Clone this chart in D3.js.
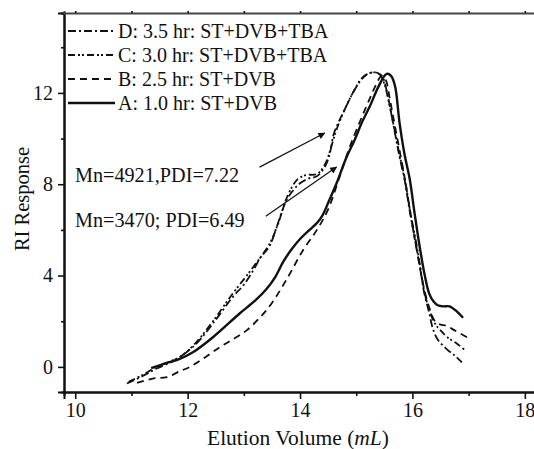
<!DOCTYPE html>
<html>
<head>
<meta charset="utf-8">
<script src="https://cdn.jsdelivr.net/npm/d3@7"></script>
<style>
  body { margin: 0; background: #fff; }
  svg text { font-family: "Liberation Serif", "Times New Roman", serif; fill: #111; }
</style>
</head>
<body>
<div id="chart"></div>
<script>
// 数据：洗脱体积 (mL) 与 RI 响应
const seriesNames = ['D: 3.5 hr: ST+DVB+TBA', 'C: 3.0 hr: ST+DVB+TBA', 'B: 2.5 hr: ST+DVB', 'A: 1.0 hr: ST+DVB'];

const curveA = [[11.35,-0.05],[11.6,0.15],[11.86,0.35],[12.1,0.65],[12.45,1.3],[12.93,2.35],[13.2,2.9],[13.4,3.4],
  [13.55,3.9],[13.7,4.6],[13.85,5.15],[14.0,5.6],[14.17,6.0],[14.3,6.3],[14.4,6.64],[14.52,7.3],[14.65,8.04],[14.83,9.2],
  [14.97,9.93],[15.1,10.7],[15.24,11.4],[15.4,12.3],[15.54,12.83],[15.62,12.75],[15.69,12.3],[15.77,10.7],
  [15.86,9.3],[15.95,8.25],[16.04,6.7],[16.13,5.25],[16.22,4.0],[16.3,3.2],[16.38,2.85],[16.45,2.7],[16.55,2.65],
  [16.66,2.65],[16.78,2.45],[16.9,2.15]];

const curveB = [[11.1,-0.7],[11.4,-0.5],[11.63,-0.45],[11.85,-0.2],[12.04,0.0],[12.3,0.4],[12.57,0.86],[12.8,1.2],
  [13.05,1.6],[13.3,2.2],[13.5,2.8],[13.8,4.0],[14.05,5.1],[14.3,6.0],[14.5,6.9],[14.7,8.3],[14.88,9.6],[15.1,10.95],
  [15.25,11.8],[15.36,12.4],[15.45,12.75],[15.52,12.6],[15.6,11.7],[15.7,10.4],[15.86,8.3],[16.0,6.2],[16.1,4.8],
  [16.2,3.5],[16.3,2.6],[16.4,2.0],[16.5,1.85],[16.6,1.8],[16.75,1.6],[16.97,1.3]];

const curveC = [[10.95,-0.65],[11.2,-0.35],[11.45,0.0],[11.7,0.25],[11.9,0.5],[12.16,1.1],[12.45,2.0],[12.8,3.2],
  [13.16,4.35],[13.46,5.4],[13.6,6.2],[13.78,7.5],[13.95,8.2],[14.1,8.4],[14.3,8.45],[14.45,8.9],[14.55,9.6],
  [14.65,10.4],[14.8,11.3],[14.96,12.1],[15.1,12.65],[15.22,12.85],[15.33,12.9],[15.42,12.8],[15.5,12.4],
  [15.58,11.6],[15.68,10.4],[15.77,9.3],[15.86,8.3],[15.96,6.8],[16.07,5.4],[16.15,4.2],[16.22,3.2],[16.3,2.5],
  [16.4,1.9],[16.5,1.6],[16.62,1.3],[16.8,1.0],[16.95,0.7]];

const curveD = [[10.92,-0.73],[11.2,-0.4],[11.45,-0.07],[11.7,0.2],[11.86,0.42],[12.16,1.03],[12.45,1.9],[12.8,3.05],
  [13.0,3.6],[13.16,4.2],[13.3,4.8],[13.46,5.3],[13.58,6.1],[13.76,7.3],[13.9,7.8],[14.0,8.04],[14.15,8.25],
  [14.3,8.35],[14.45,8.8],[14.53,9.35],[14.6,10.2],[14.7,10.8],[14.8,11.3],[14.94,12.0],[15.08,12.55],[15.18,12.8],
  [15.3,12.9],[15.4,12.85],[15.47,12.7],[15.55,12.0],[15.6,11.4],[15.7,10.1],[15.77,9.2],[15.86,8.2],[15.96,6.7],
  [16.07,5.25],[16.14,4.3],[16.2,3.35],[16.3,2.35],[16.36,1.7],[16.45,1.2],[16.6,0.8],[16.75,0.5],[16.88,0.2]];

const xMajorTicks = [10, 12, 14, 16, 18];
const xMinorTicks = [11, 13, 15, 17];
const yMajorTicks = [0, 4, 8, 12];
const yMinorTicks = [2, 6, 10, 14];

const annotations = ['Mn=4921,PDI=7.22', 'Mn=3470; PDI=6.49'];
// 箭头起止点 (数据坐标)
const arrowFrom = [[13.28, 8.75], [13.39, 6.6]];
const arrowTo = [[14.44, 10.24], [14.65, 8.75]];

const width = 534, height = 449;
const plotLeft = 64, plotBottom = 392, plotTop = 13;

const svg = d3.select('#chart').append('svg').attr('width', width).attr('height', height);

const x = d3.scaleLinear().domain([9.8, 18.3]).range([plotLeft, plotLeft + 8.5 * 56.2]);
const y = d3.scaleLinear().domain([-1.1, 15.5]).range([plotBottom, plotTop]);

const styles = [
  { data: curveD, dash: '8,3,2,3', w: 1.8 },
  { data: curveC, dash: '7,3,2,2,2,3', w: 1.8 },
  { data: curveB, dash: '7,5', w: 1.8 },
  { data: curveA, dash: null, w: 2.4 }
];

// 坐标轴
function drawAxis(axis, transform, showLabels, fs) {
  const g = svg.append('g').attr('transform', transform).call(axis);
  g.selectAll('line').attr('stroke', '#111').attr('stroke-width', 1.6);
  g.select('.domain').attr('stroke', '#111').attr('stroke-width', 2);
  g.selectAll('text').attr('font-size', fs).style('font-family', '"Liberation Serif", serif').attr('fill', '#111');
  if (!showLabels) g.selectAll('text').remove();
  return g;
}

drawAxis(d3.axisBottom(x).tickValues(xMajorTicks).tickSize(7).tickPadding(4).tickFormat(d3.format('d')), `translate(0,${plotBottom})`, true, 20);
drawAxis(d3.axisBottom(x).tickValues(xMinorTicks).tickSize(4), `translate(0,${plotBottom})`, false);
drawAxis(d3.axisLeft(y).tickValues(yMajorTicks).tickSize(6).tickPadding(5).tickFormat(d3.format('d')), `translate(${plotLeft},0)`, true, 20);
drawAxis(d3.axisLeft(y).tickValues(yMinorTicks).tickSize(3), `translate(${plotLeft},0)`, false);
const topAxis = drawAxis(d3.axisTop(x).tickValues(xMajorTicks.concat(xMinorTicks)).tickSize(2), `translate(0,${plotTop})`, false);
topAxis.select('.domain').attr('stroke', '#444');

// 曲线
const line = d3.line().x(d => x(d[0])).y(d => y(d[1])).curve(d3.curveCatmullRom.alpha(0.5));

svg.append('g').selectAll('path').data(styles).enter().append('path')
  .attr('d', d => line(d.data))
  .attr('fill', 'none')
  .attr('stroke', '#111')
  .attr('stroke-width', d => d.w)
  .attr('stroke-dasharray', d => d.dash);

// 图例
const legend = svg.append('g').attr('transform', 'translate(68,31)');
const rows = legend.selectAll('g').data(styles).enter().append('g')
  .attr('transform', (d, i) => `translate(0,${i * 24})`);
rows.append('line').attr('x1', 0).attr('x2', 47).attr('y1', 0).attr('y2', 0)
  .attr('stroke', '#111').attr('stroke-width', d => d.w).attr('stroke-dasharray', d => d.dash);
rows.append('text').attr('x', 50).attr('y', 6.5).attr('font-size', 20).text((d, i) => seriesNames[i]);

// 标注文字
svg.selectAll('.note').data(annotations).enter().append('text')
  .attr('class', 'note').attr('x', 75).attr('y', (d, i) => 182 + i * 45)
  .attr('font-size', 20.2).text(d => d);

// 箭头
svg.append('defs').append('marker')
  .attr('id', 'arrow').attr('viewBox', '0 0 10 10').attr('refX', 9).attr('refY', 5)
  .attr('markerWidth', 10).attr('markerHeight', 7).attr('markerUnits', 'userSpaceOnUse').attr('orient', 'auto')
  .append('path').attr('d', 'M0,0L10,5L0,10Z').attr('fill', '#111');

svg.selectAll('.arrow').data(arrowFrom).enter().append('line')
  .attr('class', 'arrow')
  .attr('x1', d => x(d[0])).attr('y1', d => y(d[1]))
  .attr('x2', (d, i) => x(arrowTo[i][0])).attr('y2', (d, i) => y(arrowTo[i][1]))
  .attr('stroke', '#111').attr('stroke-width', 1.2).attr('marker-end', 'url(#arrow)');

// 轴标题
svg.append('text').attr('transform', `translate(29,199) rotate(-90)`).attr('text-anchor', 'middle')
  .attr('font-size', 20.5).text('RI Response');

const xTitle = svg.append('text').attr('x', 298).attr('y', 445).attr('text-anchor', 'middle').attr('font-size', 21.5);
xTitle.append('tspan').text('Elution Volume (');
xTitle.append('tspan').attr('font-style', 'italic').text('mL');
xTitle.append('tspan').text(')');
</script>
</body>
</html>
